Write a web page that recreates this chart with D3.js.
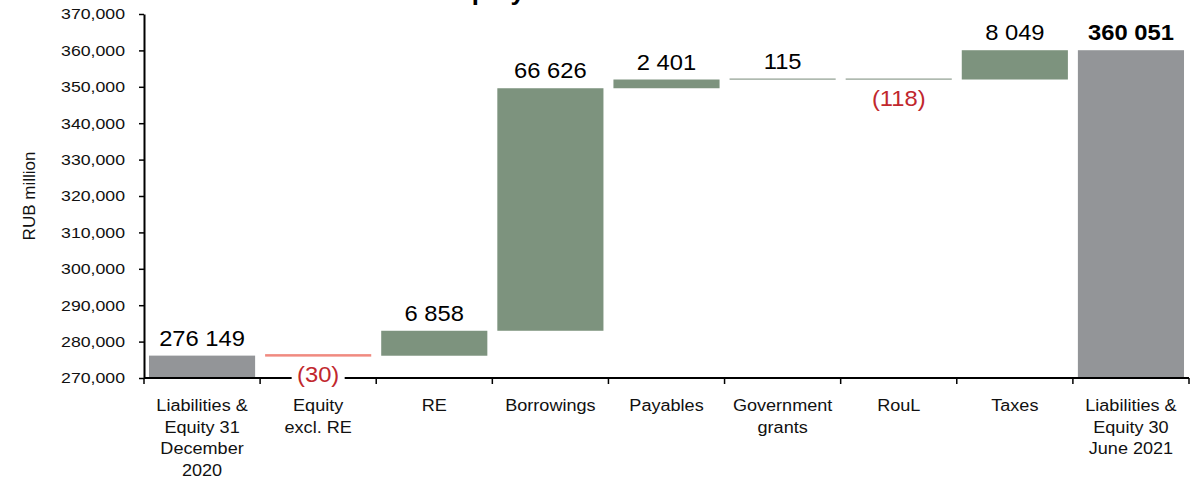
<!DOCTYPE html>
<html>
<head>
<meta charset="utf-8">
<script src="https://cdn.jsdelivr.net/npm/d3@7"></script>
<style>
  body { margin: 0; background: #fff; }
  svg text { font-family: "Liberation Sans", Arial, sans-serif; }
</style>
</head>
<body>
<div id="vis"></div>
<script>
// data
const CATEGORIES = [
  "Liabilities &\nEquity 31\nDecember\n2020",
  "Equity\nexcl. RE",
  "RE",
  "Borrowings",
  "Payables",
  "Government\ngrants",
  "RouL",
  "Taxes",
  "Liabilities &\nEquity 30\nJune 2021"
];
// first and last are totals, the rest are changes
const VALUES = [276149, -30, 6858, 66626, 2401, 115, -118, 8049, 360051];
const VALUE_LABELS = ["276 149", "(30)", "6 858", "66 626", "2 401", "115", "(118)", "8 049", "360 051"];
const Y_TICKS = [270000, 280000, 290000, 300000, 310000, 320000, 330000, 340000, 350000, 360000, 370000];

// frame
const FRAME_WIDTH = 1201;
const FRAME_HEIGHT = 479;
const MARGINS = {left: 144, right: 12, top: 14, bottom: 101};
// the picture's text is a bit wider than plain Arial
const STRETCH = 1.15;

const FRAME = d3.select("#vis")
  .append("svg")
    .attr("width", FRAME_WIDTH)
    .attr("height", FRAME_HEIGHT);

const X = d3.scaleBand()
  .domain(CATEGORIES)
  .range([MARGINS.left, FRAME_WIDTH - MARGINS.right])
  .paddingInner(0.086)
  .paddingOuter(0.043);

const Y = d3.scaleLinear()
  .domain([270000, 370000])
  .range([FRAME_HEIGHT - MARGINS.bottom, MARGINS.top]);

// running totals for the waterfall
let run = 0;
const BARS = VALUES.map((v, i) => {
  const total = (i === 0 || i === VALUES.length - 1);
  let lo, hi;
  if (total) { lo = 270000; hi = v; run = v; }
  else { lo = Math.min(run, run + v); hi = Math.max(run, run + v); run += v; }
  return {cat: CATEGORIES[i], v: v, lo: lo, hi: hi, total: total, label: VALUE_LABELS[i]};
});

function barColor(d, i) {
  if (d.total) return "#939598";
  if (i === 1) return "#f08a80";
  if (Y(d.lo) - Y(d.hi) < 1) return "#788a79";
  return "#7d937e";
}

// title (cut off at the top)
FRAME.append("text")
  .attr("x", 525)
  .attr("y", 0)
  .attr("text-anchor", "end")
  .attr("font-size", "26px")
  .attr("font-weight", "bold")
  .text("Liabilities and equity");

// bars
FRAME.selectAll(".bar")
  .data(BARS)
  .enter()
  .append("rect")
    .attr("class", "bar")
    .attr("x", d => X(d.cat))
    .attr("width", X.bandwidth())
    .attr("y", (d, i) => {
      const h = Y(d.lo) - Y(d.hi);
      if (i === 1) return Y(d.hi) - 1.5;
      return h < 1 ? Y(d.hi) - 0.5 : Y(d.hi);
    })
    .attr("height", (d, i) => {
      const h = Y(d.lo) - Y(d.hi);
      if (i === 1) return 2.5;
      return Math.max(1, h);
    })
    .attr("fill", barColor);

// y axis
const yAxis = FRAME.append("g")
  .attr("transform", "translate(" + MARGINS.left + ",0)")
  .call(d3.axisLeft(Y).tickValues(Y_TICKS).tickFormat(d3.format(",")).tickSize(5).tickSizeOuter(0).tickPadding(14));
yAxis.select(".domain").attr("stroke", "#000").attr("stroke-width", 2);
yAxis.selectAll(".tick line").attr("stroke", "#000").attr("stroke-width", 1.5);
yAxis.selectAll(".tick text")
  .attr("font-size", "15px")
  .attr("fill", "#111")
  .style("font-family", "'Liberation Sans', Arial, sans-serif")
  .each(function () {
    const t = d3.select(this);
    const x0 = +t.attr("x");
    t.attr("x", 0).attr("transform", "translate(" + x0 + ",0) scale(" + (STRETCH + 0.03) + ",1)");
  });

// x axis: line with ticks on band boundaries
const xAxisY = Y(270000);
const xAxis = FRAME.append("g");
xAxis.append("line")
  .attr("x1", X.range()[0]).attr("x2", X.range()[1])
  .attr("y1", xAxisY).attr("y2", xAxisY)
  .attr("stroke", "#000").attr("stroke-width", 2);
const bounds = CATEGORIES.map(c => X(c) - X.step() * X.paddingInner() / 2).concat([X.range()[1]]);
xAxis.selectAll(".xtick")
  .data(bounds)
  .enter()
  .append("line")
    .attr("x1", d => d).attr("x2", d => d)
    .attr("y1", xAxisY).attr("y2", xAxisY + 6)
    .attr("stroke", "#000").attr("stroke-width", 1.5);

// category labels
FRAME.selectAll(".cat")
  .data(CATEGORIES)
  .enter()
  .append("text")
    .attr("class", "cat")
    .attr("text-anchor", "middle")
    .attr("font-size", "16px")
    .attr("fill", "#111")
    .attr("transform", d => "translate(" + (X(d) + X.bandwidth() / 2) + ",411) scale(" + (STRETCH - 0.02) + ",1)")
    .each(function (d) {
      d.split("\n").forEach((line, k) => {
        d3.select(this).append("tspan")
          .attr("x", 0)
          .attr("y", k * 21.7)
          .text(line);
      });
    });

// value labels
BARS.forEach((d, i) => {
  const cx = X(d.cat) + X.bandwidth() / 2;
  const neg = d.v < 0;
  const ly = neg ? Y(d.lo) + 26 : Y(d.hi) - 10;
  const g = FRAME.append("g")
    .attr("transform", "translate(" + cx + "," + ly + ") scale(1.08,1)");
  const t = g.append("text")
    .attr("text-anchor", "middle")
    .attr("font-size", "22px")
    .attr("font-weight", i === BARS.length - 1 ? "bold" : "normal")
    .attr("fill", neg ? "#c1272d" : "#000")
    .text(d.label);
  if (neg) {
    const bb = t.node().getBBox();
    g.insert("rect", "text")
      .attr("x", bb.x - 5).attr("y", bb.y)
      .attr("width", bb.width + 10).attr("height", bb.height)
      .attr("fill", "#fff");
  }
});

// y axis title
FRAME.append("text")
  .attr("transform", "translate(35,196) rotate(-90)")
  .attr("text-anchor", "middle")
  .attr("font-size", "17px")
  .attr("fill", "#111")
  .text("RUB million");
</script>
</body>
</html>
